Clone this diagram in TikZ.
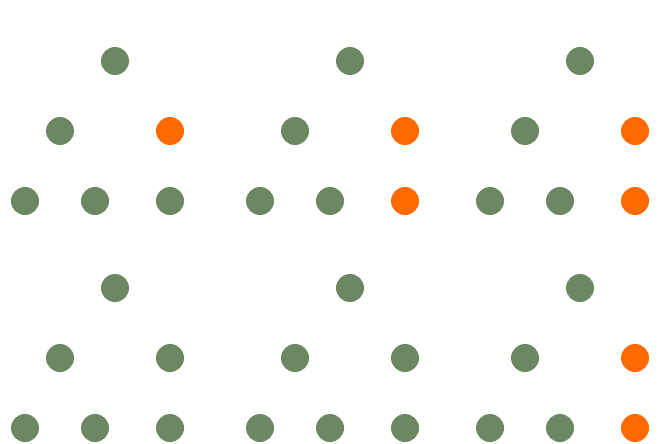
\documentclass[tikz,border=0pt]{standalone}
\definecolor{dotgreen}{HTML}{6B8862}
\definecolor{dotorange}{HTML}{FF6A00}
\tikzset{
  gdot/.style={circle,fill=dotgreen,draw=none,minimum size=28pt,inner sep=0pt},
  odot/.style={circle,fill=dotorange,draw=none,minimum size=28pt,inner sep=0pt}
}
\begin{document}
\begin{tikzpicture}[x=1pt,y=-1pt]
\useasboundingbox (0,0) rectangle (658,444);
% top row of groups
\node[gdot] (a1) at (115,61) {};
\node[gdot] (a2) at (60,131) {};
\node[odot] (a3) at (170,131) {};
\node[gdot] (a4) at (25,201) {};
\node[gdot] (a5) at (95,201) {};
\node[gdot] (a6) at (170,201) {};
\node[gdot] (b1) at (350,61) {};
\node[gdot] (b2) at (295,131) {};
\node[odot] (b3) at (405,131) {};
\node[gdot] (b4) at (260,201) {};
\node[gdot] (b5) at (330,201) {};
\node[odot] (b6) at (405,201) {};
\node[gdot] (c1) at (580,61) {};
\node[gdot] (c2) at (525,131) {};
\node[odot] (c3) at (635,131) {};
\node[gdot] (c4) at (490,201) {};
\node[gdot] (c5) at (560,201) {};
\node[odot] (c6) at (635,201) {};
% bottom row of groups
\node[gdot] (d1) at (115,288) {};
\node[gdot] (d2) at (60,358) {};
\node[gdot] (d3) at (170,358) {};
\node[gdot] (d4) at (25,428) {};
\node[gdot] (d5) at (95,428) {};
\node[gdot] (d6) at (170,428) {};
\node[gdot] (e1) at (350,288) {};
\node[gdot] (e2) at (295,358) {};
\node[gdot] (e3) at (405,358) {};
\node[gdot] (e4) at (260,428) {};
\node[gdot] (e5) at (330,428) {};
\node[gdot] (e6) at (405,428) {};
\node[gdot] (f1) at (580,288) {};
\node[gdot] (f2) at (525,358) {};
\node[odot] (f3) at (635,358) {};
\node[gdot] (f4) at (490,428) {};
\node[gdot] (f5) at (560,428) {};
\node[odot] (f6) at (635,428) {};
\end{tikzpicture}
\end{document}
